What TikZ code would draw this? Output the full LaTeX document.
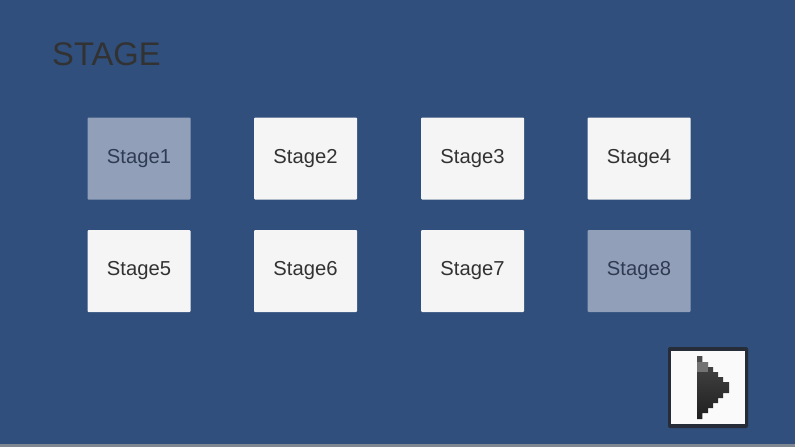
\documentclass[tikz,border=0pt]{standalone}
\usepackage{fontspec}
\setmainfont{Liberation Sans}
\definecolor{bgc}{HTML}{304F7C}
\definecolor{btn}{HTML}{F5F5F5}
\definecolor{dis}{HTML}{919FB8}
\definecolor{txt}{HTML}{323232}
\definecolor{distxt}{HTML}{2F3B52}
\definecolor{strip}{HTML}{7F8791}
\tikzset{
  x=1pt,y=-1pt,
  stagebox/.style={fill=btn,draw=none,rounded corners=1pt,minimum width=103pt,minimum height=82pt,inner sep=0pt,text=txt,font=\fontsize{20.2pt}{24pt}\selectfont},
  offbox/.style={stagebox,fill=dis,text=distxt},
  arrowpx/.style={draw=none}
}
\begin{document}
\begin{tikzpicture}
\useasboundingbox (0,0) rectangle (795,447);
\fill[bgc] (0,0) rectangle (795,447);
\fill[strip] (0,443.5) rectangle (795,447);
\node[anchor=base west,inner sep=0pt,text=txt,font=\fontsize{32.7pt}{38pt}\selectfont] (title) at (52,65) {STAGE};
\node[offbox] (s1) at (139,158.5) {Stage1};
\node[stagebox] (s2) at (305.5,158.5) {Stage2};
\node[stagebox] (s3) at (472.5,158.5) {Stage3};
\node[stagebox] (s4) at (639,158.5) {Stage4};
\node[stagebox] (s5) at (139,271) {Stage5};
\node[stagebox] (s6) at (305.5,271) {Stage6};
\node[stagebox] (s7) at (472.5,271) {Stage7};
\node[offbox] (s8) at (639,271) {Stage8};
% next button
\fill[rounded corners=2pt,fill=black!72!bgc!90!white] (668,347) rectangle (748,428);
\fill[white!98!black] (671,350.5) rectangle (744.5,424);
\begin{scope}
\shade[top color=black!72,bottom color=black!88] (697,356) -- (702.3,356) -- (702.3,362) -- (708,362) -- (708,367) -- (713,367) -- (713,372) -- (718,372) -- (718,377) -- (723,377) -- (723,382) -- (729,382) -- (729,393) -- (723,393) -- (723,398) -- (718,398) -- (718,403) -- (713,403) -- (713,408) -- (708,408) -- (708,413) -- (702.3,413) -- (702.3,419) -- (697,419) -- cycle;
\fill[black!55] (697,362) rectangle (708,372);
\fill[black!70] (697,356) rectangle (702.3,362);
\end{scope}
\end{tikzpicture}
\end{document}
